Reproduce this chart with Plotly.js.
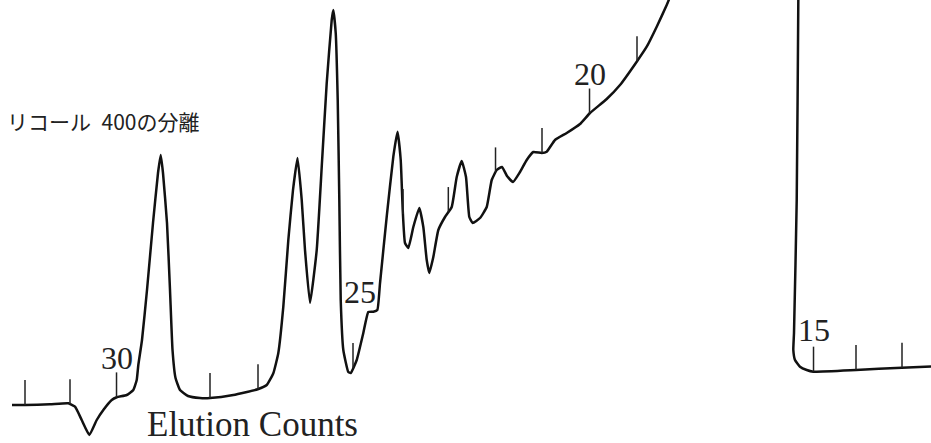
<!DOCTYPE html>
<html>
<head>
<meta charset="utf-8">
<script src="https://cdn.plot.ly/plotly-3.0.1.min.js"></script>
<style>
  html, body { margin: 0; padding: 0; background: #ffffff; }
  #chart { width: 931px; height: 443px; }
</style>
</head>
<body>
<div id="chart"></div>
<script>
// Chart distance along the recorder paper (mm) and detector signal above baseline (mm)
const chartPos = [3, 6.25, 12.5, 17.08, 18.75, 20.43, 22.33, 24.18, 25.83, 27.93, 29.18, 31.68, 33.33, 34.18, 34.58, 35.5, 36.75, 38.25, 39.5, 40.18, 40.75, 41.75, 42.5, 43.13, 43.88, 45, 47, 50, 52.5, 58.33, 64.43, 66.68, 68.33, 69.58, 70.83, 72.08, 73.25, 74.38, 75.43, 76.25, 77.5, 79.18, 80.43, 81.68, 82.93, 83.33, 83.93, 84.43, 84.83, 85.18, 85.83, 87.08, 87.68, 89.18, 90.83, 92.08, 93.33, 94.33, 95, 96.68, 98.33, 99.38, 100.18, 100.68, 101.25, 102.08, 103.33, 104.83, 105.83, 106.68, 107.33, 108.33, 109.58, 111.25, 112.93, 114.18, 115.43, 116.5, 117.33, 118.18, 120, 121.68, 122.93, 124.18, 125.5, 126.75, 128.25, 130, 131.68, 133.33, 135.43, 136.68, 138.75, 141.68, 145, 147.5, 151.68, 155, 159.18, 161.68, 164.18, 166.68, 168.75, 175, 187.5, 197.5, 199.6, 199.58, 199.18, 198.5, 198.33, 198.75, 200, 201.68, 203.33, 214, 225.43, 232.75];
const signal = [0, 0, 0.18, 0.43, -0.43, -3.75, -7.5, -3.75, -1.25, 1.25, 1.93, 2.5, 3.75, 6.25, 10, 16.25, 28.75, 45.5, 58, 62.5, 58, 45.5, 28.75, 13.75, 6.75, 3.75, 2.25, 1.75, 1.75, 2.5, 3.93, 5, 7.93, 13, 24.58, 41.25, 53.75, 61.75, 51.25, 38.75, 25.5, 38.75, 59.5, 80.5, 96.25, 98.75, 93, 76.25, 51.25, 26.25, 13.75, 8.25, 8, 11.25, 18, 23.25, 23.33, 23.75, 30.43, 47.08, 62.08, 68.33, 61.25, 48.75, 40.5, 39.25, 44.5, 49.25, 44.5, 36.25, 33, 37, 43.75, 47, 49.5, 57, 61, 57, 47, 45.5, 46.75, 49.5, 56.25, 58.75, 59.5, 57.25, 55.75, 58.25, 61.25, 63.25, 63, 63.33, 66.25, 68, 70.25, 73, 76.5, 80, 85.83, 89.58, 94.58, 100, 105, 116.25, 121.25, 113.75, 110, 101.25, 51.25, 18, 13.75, 11.25, 9.58, 8.75, 8.33, 8.75, 9.33, 9.63];

// Elution count markers (siphon dumps) recorded on the trace
const countNumbers = [32, 31, 30, 28, 27, 25, 24, 23, 22, 21, 20, 19, 15, 14, 13];
const countPos = [6.25, 17.5, 29.13, 52.5, 64.5, 88.25, 100.75, 112.08, 123.88, 135.5, 147.38, 159.25, 203.38, 214, 225.5];
const labelledCounts = [30, 25, 20, 15];

const titleText = "リコール\u2002400の分離";
const axisText = "Elution Counts";

// ---- build ----
const TICK_LEN = 6.25;
function interp(x) {
  for (let i = 0; i < chartPos.length - 1; i++) {
    const a = chartPos[i], b = chartPos[i + 1];
    if ((x >= a && x <= b) && b !== a) {
      return signal[i] + (signal[i + 1] - signal[i]) * (x - a) / (b - a);
    }
  }
  return signal[signal.length - 1];
}
const tickX = [], tickY = [];
const tickTop = {};
countNumbers.forEach((c, i) => {
  const x = countPos[i];
  const y0 = interp(x);
  tickX.push(x, x, null);
  tickY.push(y0, y0 + TICK_LEN, null);
  tickTop[c] = { x: x, y: y0 + TICK_LEN };
});

const traces = [
  {
    x: chartPos, y: signal, mode: 'lines', type: 'scatter',
    line: { color: '#111111', width: 2.5, shape: 'spline', smoothing: 0.4 },
    hoverinfo: 'skip', showlegend: false
  },
  {
    x: tickX, y: tickY, mode: 'lines', type: 'scatter',
    line: { color: '#222222', width: 1.5 },
    hoverinfo: 'skip', showlegend: false
  }
];

const labelShift = { 30: [0, -6], 25: [7, 31], 20: [0, -5], 15: [0, -3] };
const annotations = labelledCounts.map(c => ({
  x: tickTop[c].x, y: tickTop[c].y, xref: 'x', yref: 'y',
  text: String(c), showarrow: false, xanchor: 'center', yanchor: 'bottom',
  xshift: labelShift[c][0], yshift: labelShift[c][1],
  font: { family: 'Liberation Serif, serif', size: 32, color: '#222222' }
}));
annotations.push({
  x: 252 / 931, y: 1 - 424 / 443, xref: 'paper', yref: 'paper',
  text: axisText, showarrow: false, xanchor: 'center', yanchor: 'middle',
  font: { family: 'Liberation Serif, serif', size: 35, color: '#222222' }
});
annotations.push({
  x: 201 / 931, y: 1 - 121 / 443, xref: 'paper', yref: 'paper',
  text: titleText, showarrow: false, xanchor: 'right', yanchor: 'middle',
  font: { family: 'Noto Sans CJK JP, sans-serif', size: 21, color: '#222222' }
});

const layout = {
  width: 931, height: 443,
  margin: { l: 0, r: 0, t: 0, b: 0, pad: 0 },
  paper_bgcolor: '#ffffff', plot_bgcolor: '#ffffff',
  showlegend: false,
  xaxis: { range: [0, 232.75], visible: false, fixedrange: true },
  yaxis: { range: [-9.5, 101.25], visible: false, fixedrange: true },
  annotations: annotations
};

Plotly.newPlot('chart', traces, layout, { staticPlot: true, displayModeBar: false });
</script>
</body>
</html>
